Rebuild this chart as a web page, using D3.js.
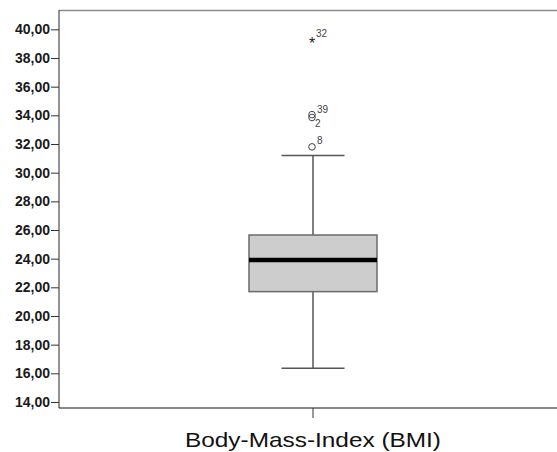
<!DOCTYPE html>
<html>
<head>
<meta charset="utf-8">
<script src="https://cdn.jsdelivr.net/npm/d3@7"></script>
<style>
  body { margin: 0; background: #fff; }
  svg { display: block; font-family: Arial, "Liberation Sans", sans-serif; }
</style>
</head>
<body>
<svg id="chart" width="557" height="452"></svg>
<script>
// values
var category = ["Body-Mass-Index (BMI)"];
var boxStats = [16.35, 21.7, 23.9, 25.65, 31.2]; // min whisker, Q1, median, Q3, max whisker
var outlierIds = ["8", "2", "39"];
var outlierVals = [31.8, 33.85, 34.05];
var extremeIds = ["32"];
var extremeVals = [39.1];
var yTicks = [14, 16, 18, 20, 22, 24, 26, 28, 30, 32, 34, 36, 38, 40];

var svg = d3.select("#chart"),
    margin = { top: 10, right: 0, bottom: 44, left: 59 },
    width = 557 - margin.left - margin.right,
    height = 452 - margin.top - margin.bottom,
    g = svg.append("g").attr("transform", "translate(" + margin.left + "," + margin.top + ")");

var y = d3.scaleLinear().domain([13.58, 41.35]).range([height, 0]);
var x = d3.scaleBand().domain(category).range([0, 508]).padding(0);

var cx = x(category[0]) + x.bandwidth() / 2,
    boxW = 128, capW = 63;

// frame: top line gray
g.append("line").attr("x1", 0).attr("x2", width).attr("y1", 0.5).attr("y2", 0.5)
    .attr("stroke", "#8a8a8a").attr("stroke-width", 1.5);

// y axis
var fmt = function (d) { return d3.format(".2f")(d).replace(".", ","); };
var yAxis = g.append("g").call(d3.axisLeft(y).tickValues(yTicks).tickFormat(fmt).tickSize(8).tickPadding(1));
yAxis.select(".domain").attr("stroke", "#6e6e6e").attr("stroke-width", 1.5)
    .attr("d", "M0,0V" + height);
yAxis.selectAll(".tick line").attr("stroke", "#333");
yAxis.selectAll(".tick text").attr("font-size", 14).attr("font-weight", "bold")
    .attr("fill", "#1a1a1a").attr("font-family", "Arial, 'Liberation Sans', sans-serif");

// x axis
var xAxis = g.append("g").attr("transform", "translate(0," + height + ")")
    .call(d3.axisBottom(x).tickSize(10).tickFormat(""));
xAxis.select(".domain").attr("stroke", "#111").attr("stroke-width", 1.2).attr("d", "M0,0H" + width);
xAxis.selectAll(".tick line").attr("stroke", "#333");

g.append("text")
    .attr("x", cx).attr("y", height + 39)
    .attr("text-anchor", "middle")
    .attr("font-size", 21)
    .attr("textLength", 256)
    .attr("lengthAdjust", "spacingAndGlyphs")
    .attr("fill", "#111")
    .text(category[0]);

// whiskers
var stroke = "#555";
g.append("line").attr("x1", cx).attr("x2", cx).attr("y1", y(boxStats[0])).attr("y2", y(boxStats[1]))
    .attr("stroke", stroke).attr("stroke-width", 1.5);
g.append("line").attr("x1", cx).attr("x2", cx).attr("y1", y(boxStats[3])).attr("y2", y(boxStats[4]))
    .attr("stroke", stroke).attr("stroke-width", 1.5);
[boxStats[0], boxStats[4]].forEach(function (v) {
    g.append("line").attr("x1", cx - capW / 2).attr("x2", cx + capW / 2)
        .attr("y1", y(v)).attr("y2", y(v)).attr("stroke", stroke).attr("stroke-width", 1.5);
});

// box
g.append("rect")
    .attr("x", cx - boxW / 2).attr("width", boxW)
    .attr("y", y(boxStats[3])).attr("height", y(boxStats[1]) - y(boxStats[3]))
    .attr("fill", "#cdcdcd").attr("stroke", "#6a6a6a").attr("stroke-width", 1.5);
g.append("line").attr("x1", cx - boxW / 2).attr("x2", cx + boxW / 2)
    .attr("y1", y(boxStats[2])).attr("y2", y(boxStats[2]))
    .attr("stroke", "#000").attr("stroke-width", 4.5);

// outliers (circles)
outlierVals.forEach(function (v, i) {
    g.append("circle").attr("cx", cx - 1).attr("cy", y(v)).attr("r", 3.3)
        .attr("fill", "none").attr("stroke", "#444").attr("stroke-width", 1);
});
var lbl = function (txt, xx, yy) {
    g.append("text").attr("x", xx).attr("y", yy).attr("font-size", 10).attr("fill", "#444").text(txt);
};
lbl(outlierIds[0], cx + 4, y(outlierVals[0]) - 3);
lbl(outlierIds[1], cx + 2, y(outlierVals[1]) + 10);
lbl(outlierIds[2], cx + 4, y(outlierVals[2]) - 2);

// extreme (star)
extremeVals.forEach(function (v, i) {
    g.append("text").attr("x", cx - 1).attr("y", y(v) + 7).attr("text-anchor", "middle")
        .attr("font-size", 16).attr("fill", "#222").text("*");
    lbl(extremeIds[i], cx + 3, y(v) - 5);
});
</script>
</body>
</html>
